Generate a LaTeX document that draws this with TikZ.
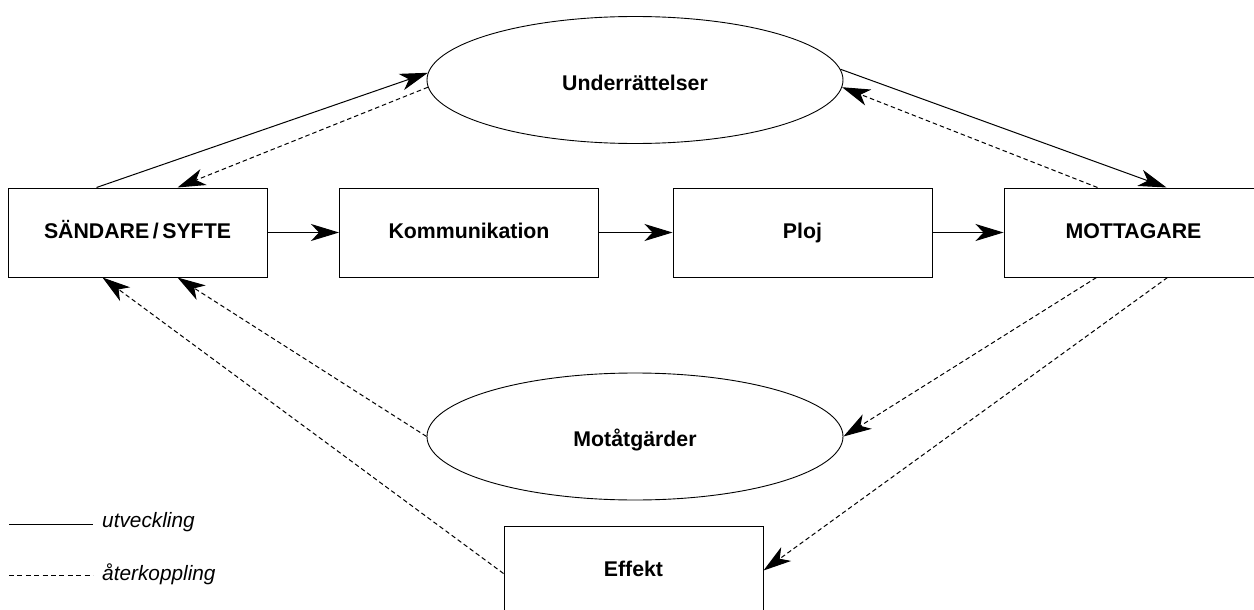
\documentclass[tikz,border=0pt]{standalone}
\usepackage{fontspec}
\setmainfont{Liberation Sans}
\usetikzlibrary{arrows.meta,shapes.geometric}
\begin{document}
\begin{tikzpicture}[x=1pt,y=-1pt,
  every node/.style={inner sep=0pt},
  lbl/.style={font=\fontsize{21.3}{25}\selectfont\bfseries,text height=15.5pt,text depth=4.5pt},
  boxnode/.style={draw,lbl,line width=1pt,minimum width=259pt,minimum height=89pt},
  ellnode/.style={draw,lbl,ellipse,line width=0.9pt,minimum width=416pt,minimum height=127pt,text height=25pt,text depth=4.5pt},
  fwd/.style={line width=1pt,-{Stealth[length=28pt,width=17pt,inset=8pt]}},
  back/.style={line width=1pt,dash pattern=on 4.5pt off 3pt,-{Stealth[length=28pt,width=17pt,inset=8pt]}},
  legtext/.style={anchor=west,font=\fontsize{20.8}{24}\selectfont\itshape}
]
\useasboundingbox (0,0) rectangle (1254,610);
\node[boxnode] (snd) at (137.5,232.5) {SÄNDARE\,/\,SYFTE};
\node[boxnode] (kom) at (469,232.5) {Kommunikation};
\node[boxnode] (ploj) at (802.5,232.5) {Ploj};
\node[boxnode] (mot) at (1133.5,232.5) {MOTTAGARE};
\node[boxnode] (eff) at (633.5,570.5) {Effekt};
\node[ellnode] (und) at (635,80) {Underrättelser};
\node[ellnode] (mat) at (635,436.5) {Motåtgärder};

\draw[fwd] (snd) -- (kom);
\draw[fwd] (kom) -- (ploj);
\draw[fwd] (ploj) -- (mot);

\draw[fwd] ([xshift=89pt]snd.north west) -- (und.178);
\draw[back] (und.182) -- ([xshift=170pt]snd.north west);
\draw[fwd] (und.3) -- ([xshift=163pt]mot.north west);
\draw[back] ([xshift=94pt]mot.north west) -- (und.358);

\draw[back] ([xshift=93pt]mot.south west) -- (mat.east);
\draw[back] ([xshift=164pt]mot.south west) -- (eff.east);
\draw[back] (mat.west) -- ([xshift=170pt]snd.south west);
\draw[back] ([yshift=-3pt]eff.west) -- ([xshift=95pt]snd.south west);

\coordinate (l1a) at (9,524);
\coordinate (l1b) at (93,524);
\coordinate (l2a) at (9,575);
\coordinate (l2b) at (93,575);
\draw[line width=1pt] (l1a) -- (l1b);
\draw[line width=1pt,dash pattern=on 5pt off 3.4pt] (l2a) -- (l2b);
\node[legtext] (lt1) at (102,522) {utveckling};
\node[legtext] (lt2) at (102,574) {återkoppling};
\end{tikzpicture}
\end{document}
